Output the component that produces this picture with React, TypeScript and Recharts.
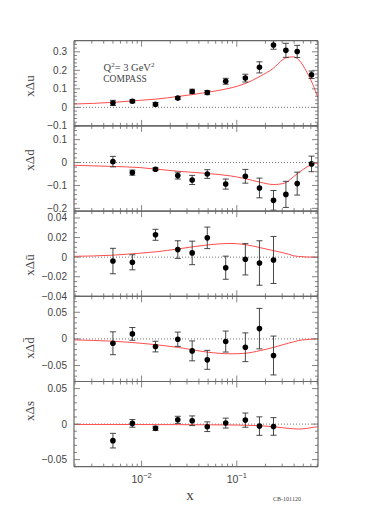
import React from 'react';
import { ComposedChart, Line, Scatter, ErrorBar, XAxis, YAxis, ReferenceLine } from 'recharts';

const W = 382;
const H = 509;
const PLOT_LEFT = 74;
const PLOT_RIGHT = 318;
const PANEL_TOP = 40.7;
const PANEL_H = 85.2;

const X_DOMAIN: [number, number] = [0.00195, 0.713];
const xMajor = [0.01, 0.1];
const xTicks = [
  0.002, 0.003, 0.004, 0.005, 0.006, 0.007, 0.008, 0.009, 0.01,
  0.02, 0.03, 0.04, 0.05, 0.06, 0.07, 0.08, 0.09, 0.1,
  0.2, 0.3, 0.4, 0.5, 0.6, 0.7,
];

// COMPASS x bins
const xBins = [0.005, 0.008, 0.014, 0.024, 0.034, 0.049, 0.0765, 0.123, 0.173, 0.243, 0.328, 0.431, 0.61];

const duVal = [0.024, 0.033, 0.017, 0.05, 0.086, 0.08, 0.141, 0.158, 0.216, 0.337, 0.308, 0.302, 0.176];
const duErr = [0.014, 0.008, 0.009, 0.008, 0.012, 0.011, 0.016, 0.021, 0.03, 0.023, 0.038, 0.033, 0.02];

const ddVal = [0.004, -0.044, -0.029, -0.057, -0.076, -0.05, -0.094, -0.06, -0.111, -0.165, -0.139, -0.092, -0.006];
const ddErr = [0.023, 0.011, 0.006, 0.015, 0.02, 0.019, 0.022, 0.03, 0.043, 0.043, 0.057, 0.05, 0.034];

const dubVal = [-0.004, -0.0053, 0.0228, 0.0077, 0.0043, 0.0197, -0.0108, -0.0022, -0.006, -0.0029];
const dubErr = [0.013, 0.0077, 0.0056, 0.009, 0.012, 0.011, 0.0118, 0.016, 0.0227, 0.024];

const ddbVal = [-0.0082, 0.0094, -0.0144, -0.0006, -0.0225, -0.0393, -0.005, -0.0157, 0.0193, -0.0312];
const ddbErr = [0.0215, 0.012, 0.01, 0.0134, 0.0187, 0.0178, 0.0197, 0.027, 0.038, 0.0365];

const dsVal = [-0.0233, 0.001, -0.006, 0.006, 0.0047, -0.0037, 0.0014, 0.0056, -0.0028, -0.0033];
const dsErr = [0.0103, 0.0054, 0.003, 0.005, 0.0068, 0.0068, 0.007, 0.01, 0.013, 0.0124];

// fit curves, read at these x
const curveX = [0.00195, 0.005, 0.0096, 0.0144, 0.0243, 0.05, 0.085, 0.122, 0.176, 0.243, 0.305, 0.349, 0.394, 0.445, 0.546, 0.64, 0.713];
const duCurve = [0.018, 0.027, 0.038, 0.045, 0.059, 0.082, 0.104, 0.128, 0.168, 0.212, 0.258, 0.271, 0.273, 0.258, 0.189, 0.115, 0.05];
const ddCurve = [-0.012, -0.017, -0.022, -0.029, -0.038, -0.048, -0.058, -0.07, -0.086, -0.096, -0.092, -0.08, -0.062, -0.045, -0.019, -0.006, -0.002];
const dubCurve = [0.0008, 0.002, 0.004, 0.0055, 0.0084, 0.0125, 0.014, 0.0128, 0.0097, 0.0066, 0.0045, 0.003, 0.0014, 0.0007, 0.0001, 0, 0];
const ddbCurve = [-0.0019, -0.0044, -0.008, -0.011, -0.016, -0.025, -0.028, -0.027, -0.022, -0.016, -0.011, -0.008, -0.0056, -0.003, -0.0012, -0.0003, 0];
const dsCurve = [-0.0005, -0.0005, -0.0006, -0.0007, -0.0008, -0.001, -0.0012, -0.0015, -0.0023, -0.0037, -0.0052, -0.006, -0.0066, -0.007, -0.006, -0.0045, -0.0037];

const FRAME = '#666';
const TEXT = '#444';
const NUM_FONT = '"Liberation Sans", Arial, sans-serif';
const SERIF = '"Liberation Serif", "DejaVu Serif", serif';

function steps(lo: number, hi: number, step: number) {
  const out: number[] = [];
  for (let v = lo; v <= hi + 1e-9; v += step) out.push(Math.round(v * 1e6) / 1e6);
  return out;
}

const isMajor = (v: number, majors: number[]) => majors.some((m) => Math.abs(m - v) < 1e-9);

const fmtY = (v: number) => (v === 0 ? '0' : v < 0 ? '\u2212' + String(Math.abs(v)) : String(v));

const toPoints = (vals: number[], errs: number[]) => vals.map((y, i) => ({ x: xBins[i], y, e: errs[i] }));
const toCurve = (vals: number[]) => vals.map((y, i) => ({ x: curveX[i], y }));

function xTick(side: 'top' | 'bottom', showLabels: boolean) {
  return (props: any) => {
    const { x, y, payload } = props;
    const major = isMajor(payload.value, xMajor);
    const len = major ? 6 : 3;
    const dir = side === 'bottom' ? -1 : 1;
    const exp = Math.round(Math.log10(payload.value));
    return (
      <g>
        <line x1={x} y1={y} x2={x} y2={y + dir * len} stroke={FRAME} strokeWidth={0.8} />
        {showLabels && major && (
          <text x={x} y={y + 16} textAnchor="middle" fontSize={10.5} fontFamily={NUM_FONT} fill={TEXT}>
            10
            <tspan dy={-5} fontSize={7.5}>
              {'\u2212' + Math.abs(exp)}
            </tspan>
          </text>
        )}
      </g>
    );
  };
}

function yTick(side: 'left' | 'right', majors: number[]) {
  return (props: any) => {
    const { x, y, payload } = props;
    const major = isMajor(payload.value, majors);
    const len = major ? 6 : 3;
    const dir = side === 'left' ? 1 : -1;
    return (
      <g>
        <line x1={x} y1={y} x2={x + dir * len} y2={y} stroke={FRAME} strokeWidth={0.8} />
        {side === 'left' && major && (
          <text x={x - 7} y={y + 3.5} textAnchor="end" fontSize={10} fontFamily={NUM_FONT} fill={TEXT}>
            {fmtY(payload.value)}
          </text>
        )}
      </g>
    );
  };
}

const Dot = (p: any) => <circle cx={p.cx} cy={p.cy} r={2.8} fill="#000" />;

type PanelProps = {
  index: number;
  domain: [number, number];
  yMajor: number[];
  yMinorStep: number;
  points: { x: number; y: number; e: number }[];
  curve: { x: number; y: number }[];
  last?: boolean;
};

function Panel({ index, domain, yMajor, yMinorStep, points, curve, last }: PanelProps) {
  const top = PANEL_TOP + index * PANEL_H;
  const bottom = H - top - PANEL_H;
  const yTicks = steps(Math.ceil(domain[0] / yMinorStep - 1e-6) * yMinorStep, domain[1], yMinorStep);
  const axisLine = { stroke: FRAME, strokeWidth: 1.2 };
  // axes get 1px so that recharts draws them; margins are cut by that much
  return (
    <div style={{ position: 'absolute', left: 0, top: 0 }}>
      <ComposedChart
        width={W}
        height={H}
        margin={{ top: top - 1, bottom: bottom - 1, left: PLOT_LEFT - 1, right: W - PLOT_RIGHT - 1 }}
      >
        <XAxis
          xAxisId="b"
          orientation="bottom"
          dataKey="x"
          type="number"
          scale="log"
          domain={X_DOMAIN}
          allowDataOverflow
          ticks={xTicks}
          interval={0}
          height={1}
          tickSize={0}
          tickMargin={0}
          tickLine={false}
          axisLine={axisLine}
          tick={xTick('bottom', !!last)}
        />
        <XAxis
          xAxisId="t"
          orientation="top"
          dataKey="x"
          type="number"
          scale="log"
          domain={X_DOMAIN}
          allowDataOverflow
          ticks={xTicks}
          interval={0}
          height={1}
          tickSize={0}
          tickMargin={0}
          tickLine={false}
          axisLine={axisLine}
          tick={xTick('top', false)}
        />
        <YAxis
          yAxisId="l"
          orientation="left"
          dataKey="y"
          type="number"
          domain={domain}
          allowDataOverflow
          ticks={yTicks}
          interval={0}
          width={1}
          tickSize={0}
          tickMargin={0}
          tickLine={false}
          axisLine={axisLine}
          tick={yTick('left', yMajor)}
        />
        <YAxis
          yAxisId="r"
          orientation="right"
          dataKey="y"
          type="number"
          domain={domain}
          allowDataOverflow
          ticks={yTicks}
          interval={0}
          width={1}
          tickSize={0}
          tickMargin={0}
          tickLine={false}
          axisLine={axisLine}
          tick={yTick('right', yMajor)}
        />
        <ReferenceLine xAxisId="b" yAxisId="l" y={0} stroke="#555" strokeWidth={0.8} strokeDasharray="1 2" />
        <Line
          xAxisId="b"
          yAxisId="l"
          data={curve}
          dataKey="y"
          type="monotone"
          stroke="#ff4d4d"
          strokeWidth={1}
          dot={false}
          activeDot={false}
          isAnimationActive={false}
        />
        <Scatter xAxisId="b" yAxisId="l" data={points} dataKey="y" shape={Dot} isAnimationActive={false}>
          <ErrorBar dataKey="e" direction="y" width={3} stroke="#333" strokeWidth={0.9} isAnimationActive={false} />
        </Scatter>
      </ComposedChart>
    </div>
  );
}

const panelLabels = [
  { text: 'x\u0394u', y: 86 },
  { text: 'x\u0394d', y: 160 },
  { text: 'x\u0394\u016B', y: 265 },
  { text: 'x\u0394d\u0304', y: 348 },
  { text: 'x\u0394s', y: 411 },
];

export default function App() {
  return (
    <div style={{ position: 'absolute', left: 0, top: 0, width: W, height: H, background: '#fff' }}>
      <Panel index={0} domain={[-0.1, 0.36]} yMajor={[-0.1, 0, 0.1, 0.2, 0.3]} yMinorStep={0.02} points={toPoints(duVal, duErr)} curve={toCurve(duCurve)} />
      <Panel index={1} domain={[-0.212, 0.16]} yMajor={[-0.2, -0.1, 0, 0.1]} yMinorStep={0.02} points={toPoints(ddVal, ddErr)} curve={toCurve(ddCurve)} />
      <Panel index={2} domain={[-0.04, 0.047]} yMajor={[-0.04, -0.02, 0, 0.02, 0.04]} yMinorStep={0.005} points={toPoints(dubVal, dubErr)} curve={toCurve(dubCurve)} />
      <Panel index={3} domain={[-0.08, 0.08]} yMajor={[-0.05, 0, 0.05]} yMinorStep={0.01} points={toPoints(ddbVal, ddbErr)} curve={toCurve(ddbCurve)} />
      <Panel index={4} domain={[-0.06, 0.06]} yMajor={[-0.05, 0, 0.05]} yMinorStep={0.01} points={toPoints(dsVal, dsErr)} curve={toCurve(dsCurve)} last />
      <svg width={W} height={H} style={{ position: 'absolute', left: 0, top: 0, pointerEvents: 'none' }}>
        {panelLabels.map((l) => (
          <text
            key={l.text}
            x={0}
            y={0}
            transform={`translate(34 ${l.y}) rotate(-90)`}
            textAnchor="middle"
            fontSize={13}
            fontFamily={SERIF}
            fill={TEXT}
          >
            {l.text}
          </text>
        ))}
        <text x={129} y={71} textAnchor="middle" fontSize={10.5} fontFamily={SERIF} fill={TEXT}>
          Q<tspan dy={-4} fontSize={7}>2</tspan>
          <tspan dy={4}>= 3 GeV</tspan>
          <tspan dy={-4} fontSize={7}>2</tspan>
        </text>
        <text x={125} y={82} textAnchor="middle" fontSize={9.5} fontFamily={SERIF} fill={TEXT}>
          COMPASS
        </text>
        <text x={190} y={500} textAnchor="middle" fontSize={15} fontFamily={SERIF} fill={TEXT}>
          x
        </text>
        <text x={287} y={501} textAnchor="middle" fontSize={6} fontFamily={SERIF} fill={TEXT}>
          CB-101120
        </text>
      </svg>
    </div>
  );
}
